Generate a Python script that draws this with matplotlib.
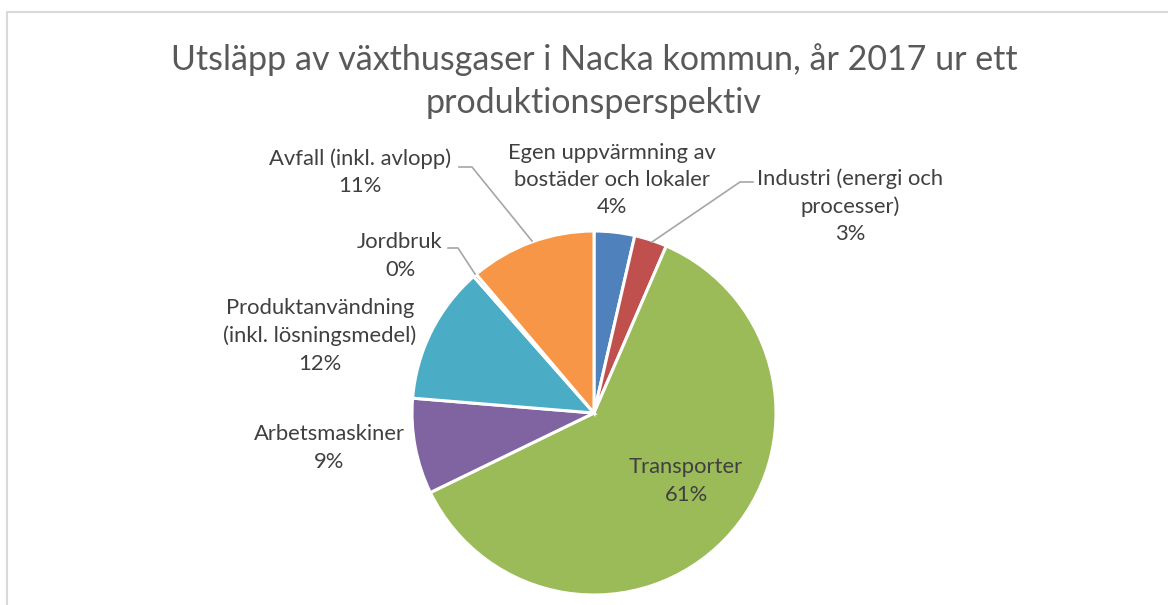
import matplotlib.pyplot as plt

categories = ["Egen uppvärmning av\nbostäder och lokaler", "Industri (energi och\nprocesser)",
              "Transporter", "Arbetsmaskiner", "Produktanvändning\n(inkl. lösningsmedel)",
              "Jordbruk", "Avfall (inkl. avlopp)"]
shares = [3.6, 2.9, 61.3, 8.5, 12.2, 0.3, 11.2]
pct_labels = ["4%", "3%", "61%", "9%", "12%", "0%", "11%"]
colors = ["#4f81bd", "#c0504d", "#9bbb59", "#8064a2", "#4bacc6", "#2c4d75", "#f79646"]

# label centres and leader lines, in pixel coords (y from top)
label_pos = [(612, 180), (850, 206), (686, 481), (329, 448), (320, 336), (400, 256), (360, 172)]
leaders = {1: [(753, 182), (740, 182), (652, 242)],
           5: [(448, 248), (458, 248), (475, 274)],
           6: [(459, 167), (472, 167), (532, 241)]}

W, H = 1168, 605
fig = plt.figure(figsize=(W / 100, H / 100), dpi=100)
ax = fig.add_axes([0, 0, 1, 1])

ax.pie(shares, colors=colors, startangle=90, counterclock=False,
       center=(594, H - 413), radius=182, frame=True,
       wedgeprops=dict(edgecolor="white", linewidth=2.2))
ax.set_xlim(0, W)
ax.set_ylim(0, H)
ax.set_aspect("equal")
ax.axis("off")

# chart border
ax.plot([7, 7, W + 5], [-5, H - 12, H - 12], color="#d9d9d9", lw=1.5, clip_on=False)

ax.text(594, H - 81, "Utsläpp av växthusgaser i Nacka kommun, år 2017 ur ett\nproduktionsperspektiv",
        ha="center", va="center", fontsize=24.5, color="#595959", family="Lato",
        linespacing=1.45)

for i, (cat, pct) in enumerate(zip(categories, pct_labels)):
    x, y = label_pos[i]
    ax.text(x, H - y, cat + "\n" + pct, ha="center", va="center", fontsize=15.8,
            color="#404040", family="Lato", linespacing=1.45)

for pts in leaders.values():
    xs = [p[0] for p in pts]
    ys = [H - p[1] for p in pts]
    ax.plot(xs, ys, color="#a6a6a6", lw=1.2)

fig.savefig("out.png", dpi=100, facecolor="white")
